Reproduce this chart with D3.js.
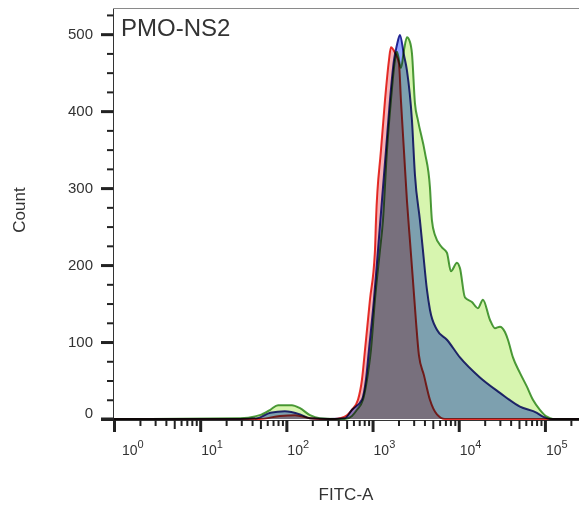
<!DOCTYPE html>
<html lang="en">
<head>
<meta charset="utf-8">
<script src="https://d3js.org/d3.v7.min.js"></script>
<style>
  body { margin: 0; background: #fff; }
  svg { font-family: "Liberation Sans", Arial, Helvetica, sans-serif; }
  .hist { mix-blend-mode: multiply; }
</style>
</head>
<body>
<script>

// FITC-A values (x) and counts (y), one pair of arrays per overlay
const redFitc  = [1, 49, 84, 126, 188, 245, 366, 419, 505, 577, 677, 753, 817, 933, 1066, 1095, 1251, 1393, 1549, 1634, 1819, 2024, 2135, 2313, 2506, 2715, 2944, 3186, 3451, 3945, 4634, 5585, 6918, 262144];
const redCount = [0, 0, 4, 5, 1, 0, 0, 1, 5, 12, 25, 51, 90, 155, 219, 258, 349, 414, 466, 483, 476, 462, 414, 349, 284, 232, 180, 128, 83, 57, 25, 6, 0, 0];

const blueFitc  = [1, 29, 46, 65, 96, 144, 188, 320, 478, 577, 753, 838, 908, 1038, 1155, 1285, 1431, 1591, 1771, 1918, 2079, 2313, 2506, 2866, 3105, 3548, 3844, 4277, 4634, 5585, 7295, 10330, 17620, 30070, 51290, 80740, 94840, 114300, 262144];
const blueCount = [0, 0, 1, 8, 10, 6, 1, 0, 1, 12, 25, 51, 90, 155, 219, 284, 349, 414, 466, 486, 499, 473, 453, 388, 317, 258, 219, 168, 142, 116, 103, 80, 54, 34, 16, 8, 3, 0, 0];

const greenFitc  = [1, 29, 49, 65, 80, 116, 144, 188, 245, 366, 478, 577, 659, 774, 861, 958, 1066, 1218, 1320, 1469, 1634, 1819, 1918, 2135, 2313, 2506, 2715, 2866, 3105, 3365, 4055, 4634, 4887, 5297, 6383, 7295, 8120, 9530, 10330, 11800, 14230, 16710, 19090, 23010, 26310, 30070, 34370, 37240, 42570, 51290, 61820, 72610, 87470, 105400, 123900, 262144];
const greenCount = [0, 1, 5, 12, 18, 18, 14, 5, 1, 0, 0, 4, 12, 25, 51, 90, 155, 219, 258, 349, 414, 466, 477, 456, 479, 496, 490, 475, 410, 388, 346, 301, 258, 239, 223, 216, 192, 203, 196, 158, 152, 144, 155, 129, 118, 120, 113, 103, 80, 60, 42, 25, 12, 3, 0, 0];

// axis ticks
const yMajor = [0, 100, 200, 300, 400, 500];
const yMinor = [25, 50, 75, 125, 150, 175, 225, 250, 275, 325, 350, 375, 425, 450, 475, 525];
const xDecades = [0, 1, 2, 3, 4, 5];

const width = 579, height = 506;
const plotLeft = 114, plotRight = 581, plotTop = 8, plotBottom = 419;

const svg = d3.select("body")
              .append("svg")
              .attr("width", width)
              .attr("height", height);

const x = d3.scaleLog().domain([1, 262144]).range([plotLeft, plotRight]);
const y = d3.scaleLinear().domain([0, 534]).range([plotBottom, plotTop]);

// frame line along the top
svg.append("line")
   .attr("x1", plotLeft).attr("x2", plotRight)
   .attr("y1", plotTop + 0.5).attr("y2", plotTop + 0.5)
   .attr("stroke", "#8a8a8a");

// ---- y axis ----
const yAxisMajor = svg.append("g")
    .attr("transform", `translate(${plotLeft - 1},0)`)
    .call(d3.axisLeft(y).tickValues(yMajor).tickSize(12).tickSizeOuter(0).tickPadding(8));
yAxisMajor.select(".domain").attr("stroke", "#333");
yAxisMajor.selectAll(".tick line").attr("stroke", "#222").attr("stroke-width", 3);
yAxisMajor.selectAll(".tick text").attr("font-size", 15).attr("fill", "#333");
yAxisMajor.attr("font-family", null).attr("font-size", null);
yAxisMajor.selectAll(".tick").filter(d => d === 0).select("text").attr("y", -6);

const yAxisMinor = svg.append("g")
    .attr("transform", `translate(${plotLeft - 1},0)`)
    .call(d3.axisLeft(y).tickValues(yMinor).tickSize(6).tickSizeOuter(0).tickFormat(""));
yAxisMinor.select(".domain").remove();
yAxisMinor.selectAll(".tick line").attr("stroke", "#222").attr("stroke-width", 2);

// ---- x axis (log) ----
const xMinorVals = [];
xDecades.forEach(k => {
    for (let m = 2; m <= 9; m++) {
        const v = m * Math.pow(10, k);
        if (v <= 262144) xMinorVals.push(v);
    }
});

const xAxisMajor = svg.append("g")
    .attr("transform", `translate(0,${plotBottom + 1})`)
    .call(d3.axisBottom(x).tickValues(xDecades.map(k => Math.pow(10, k))).tickSize(12).tickSizeOuter(0).tickFormat(""));
xAxisMajor.select(".domain").attr("stroke", "#333");
xAxisMajor.selectAll(".tick line").attr("stroke", "#222").attr("stroke-width", 3);

const xAxisMinor = svg.append("g")
    .attr("transform", `translate(0,${plotBottom + 1})`)
    .call(d3.axisBottom(x).tickValues(xMinorVals).tickSize(6).tickSizeOuter(0).tickFormat(""));
xAxisMinor.select(".domain").remove();
xAxisMinor.selectAll(".tick line")
    .attr("stroke", "#222")
    .attr("stroke-width", 2)
    .attr("y2", d => (String(d)[0] === "5" ? 9 : 6));

// y tick at 0 pokes out to the left as well
svg.append("line")
   .attr("x1", plotLeft - 13).attr("x2", plotLeft)
   .attr("y1", y(0)).attr("y2", y(0))
   .attr("stroke", "#222").attr("stroke-width", 3);

// decade labels 10^k
const xLabels = svg.append("g")
    .attr("font-size", 14)
    .attr("fill", "#333");
xDecades.forEach(k => {
    const t = xLabels.append("text")
        .attr("x", Math.max(x(Math.pow(10, k)) + 1, plotLeft + 8))
        .attr("y", 455);
    t.append("tspan").text("10");
    t.append("tspan").attr("font-size", 11).attr("dy", -7).text(k);
});

// ---- histograms, drawn red -> blue -> green, multiplied together ----
const series = [
    { fitc: redFitc,   count: redCount,   fill: "#f5b2b6", stroke: "#e8322c" },
    { fitc: blueFitc,  count: blueCount,  fill: "#94a7ff", stroke: "#2b2c94" },
    { fitc: greenFitc, count: greenCount, fill: "#d7f5af", stroke: "#4f9b3f" }
];

const area = d3.area()
    .x(d => x(d.f))
    .y0(y(0))
    .y1(d => y(d.c))
    .curve(d3.curveMonotoneX);

const line = d3.line()
    .x(d => x(d.f))
    .y(d => y(d.c))
    .curve(d3.curveMonotoneX);

const hist = svg.append("g");
series.forEach(s => {
    const pts = s.fitc.map((f, i) => ({ f: f, c: s.count[i] }));
    hist.append("path")
        .attr("class", "hist")
        .attr("d", area(pts))
        .attr("fill", s.fill);
    hist.append("path")
        .attr("class", "hist")
        .attr("d", line(pts))
        .attr("fill", "none")
        .attr("stroke", s.stroke)
        .attr("stroke-width", 2);
});

// ---- titles ----
svg.append("text")
   .attr("x", plotLeft + 7).attr("y", 36)
   .attr("font-size", 24)
   .attr("fill", "#333")
   .text("PMO-NS2");

svg.append("text")
   .attr("x", 346).attr("y", 500)
   .attr("text-anchor", "middle")
   .attr("font-size", 17)
   .attr("fill", "#333")
   .text("FITC-A");

svg.append("text")
   .attr("transform", "translate(25,210) rotate(-90)")
   .attr("text-anchor", "middle")
   .attr("font-size", 17)
   .attr("fill", "#333")
   .text("Count");

</script>
</body>
</html>
